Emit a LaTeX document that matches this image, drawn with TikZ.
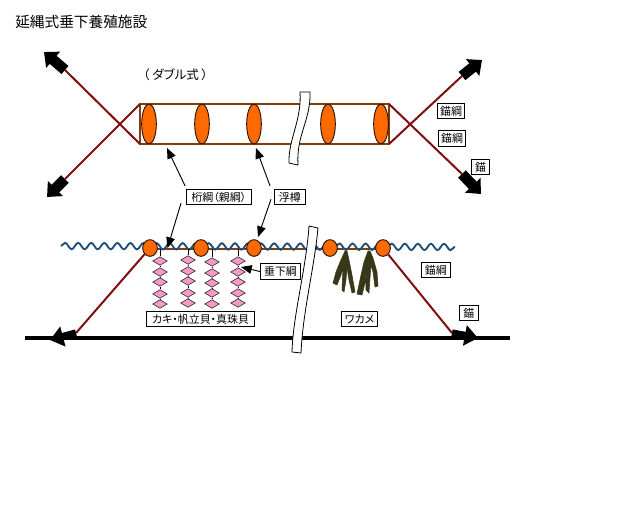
\documentclass[tikz,border=0pt]{standalone}
\usepackage{fontspec}
\setmainfont{Noto Sans CJK JP}[RawFeature={+palt}]
\usetikzlibrary{calc, positioning, arrows.meta, shapes.geometric, decorations.pathmorphing}
\definecolor{xrope}{HTML}{843C0C}
\definecolor{xanchor}{HTML}{7F0F0F}
\definecolor{xfloat}{HTML}{FF6A00}
\definecolor{xwave}{HTML}{1F4E79}
\definecolor{xshell}{HTML}{F09CC4}
\definecolor{xweed}{HTML}{37371A}
\tikzset{
	x=0.75pt, y=-0.75pt,
	labelbox/.style={draw, fill=white, line width=0.75pt, font=\fontsize{8.2pt}{9pt}\selectfont, inner sep=0pt, minimum height=11.6pt, anchor=west},
	rope/.style={xrope, line width=1.6pt},
	anchorline/.style={xanchor, line width=1.5pt},
	blockarrow/.style={line width=8pt, -{Triangle[width=15.5pt, length=9pt]}},
	floorarrow/.style={line width=5.5pt, -{Triangle[width=15pt, length=10pt]}},
	pointer/.style={line width=0.7pt, -{Triangle[width=6.5pt, length=8pt]}},
	floatv/.style={draw=black!70!xrope, fill=xfloat, line width=0.7pt, ellipse, inner sep=0pt, minimum width=11pt, minimum height=30pt},
	floath/.style={draw=black!70!xrope, fill=xfloat, line width=0.7pt, ellipse, inner sep=0pt, minimum width=11pt, minimum height=12.5pt},
	shell/.style={draw=black!70!xshell, fill=xshell, line width=0.5pt, diamond, inner sep=0pt, minimum width=11pt, minimum height=6.5pt},
	strip/.style={draw, fill=white, line width=0.6pt},
	weed/.style={fill=xweed, draw=xweed, line width=0.4pt},
}
\begin{document}
\begin{tikzpicture}
	\useasboundingbox (0,0) rectangle (640,512);
	\node[anchor=west, inner sep=0pt, font=\fontsize{11pt}{12pt}\selectfont] (title) at (15,22) {延縄式垂下養殖施設};
	\node[anchor=west, inner sep=0pt, font=\fontsize{9.4pt}{10pt}\selectfont] (kind) at (143,75) {（\hspace{2pt}ダブル式\hspace{2pt}）};

	% upper view
	\coordinate (nw) at (140,104);
	\coordinate (sw) at (140,144);
	\coordinate (ne) at (389,104);
	\coordinate (se) at (389,144);
	\draw[rope] (nw) rectangle (se);
	\foreach \x/\n in {149/a,202/b,254/c,328/d,381/e} {
			\node[floatv] (top\n) at (\x,124) {};
		}
	\coordinate (ul) at (65,70);
	\coordinate (ll) at (65,179);
	\coordinate (ur) at (462,76);
	\coordinate (lr) at (462,174);
	\draw[anchorline] (nw) -- (ll);
	\draw[anchorline] (sw) -- (ul);
	\draw[anchorline] (ne) -- (lr);
	\draw[anchorline] (se) -- (ur);
	\coordinate (ultip) at (44,52);
	\coordinate (lltip) at (47,197);
	\coordinate (urtip) at (482,60);
	\coordinate (lrtip) at (481,194);
	\draw[blockarrow] (ul) -- (ultip);
	\draw[blockarrow] (ll) -- (lltip);
	\draw[blockarrow] (ur) -- (urtip);
	\draw[blockarrow] (lr) -- (lrtip);
	\draw[strip] (300,92) -- (310,92) .. controls (311,120) and (296,135) .. (298,165) -- (289,163) .. controls (288,140) and (302,120) .. (300,92) -- cycle;

	% side view
	\coordinate (wavel) at (61,246);
	\coordinate (waver) at (455,247);
	\coordinate (floorl) at (25,338);
	\coordinate (floorr) at (510,338);
	\draw[black, line width=2.8pt] (floorl) -- (floorr);
	\draw[rope] (150,249) -- (383,249);
	\draw[xwave, line width=1.4pt, decorate, decoration={snake, segment length=9.8pt, amplitude=2.4pt}] (wavel) -- (waver);
	\foreach \x/\ya/\yb/\yc/\yd/\ye/\n in {160/261/272/282/294/304/a,188/260/271/281/293/303/b,212/262/273/283/293/304/c,238/261/272/282/293/303/d} {
			\coordinate (drop\n) at (\x,249);
			\node[shell] (sa\n) at (\x,\ya) {};
			\node[shell] (sb\n) at (\x,\yb) {};
			\node[shell] (sc\n) at (\x,\yc) {};
			\node[shell] (sd\n) at (\x,\yd) {};
			\node[shell] (se\n) at (\x,\ye) {};
			\draw[line width=0.6pt] (drop\n) -- (sa\n) (sa\n) -- (sb\n) (sb\n) -- (sc\n) (sc\n) -- (sd\n) (sd\n) -- (se\n);
		}
	\foreach \x/\n in {150/a,201/b,254/c,330/d,383/e} {
			\node[floath] (side\n) at (\x,248) {};
		}
	\coordinate (al) at (76,333);
	\coordinate (ar) at (452,333);
	\coordinate (altip) at (50,340);
	\coordinate (artip) at (478,338);
	\draw[anchorline] (sidea) -- (al);
	\draw[anchorline] (sidee) -- (ar);
	\draw[floorarrow] (al) -- (altip);
	\draw[floorarrow] (ar) -- (artip);

	% wakame
	\fill[weed] (345,251) -- (340,262) -- (336,272) -- (333,283) -- (337,285) -- (341,275) -- (343,268) -- (342,290) -- (344,292) -- (346,280) -- (347,268) -- (349,280) -- (352,293) -- (355,292) -- (352,275) -- (349,260) -- (347,251) -- cycle;
	\fill[weed] (368,251) -- (364,262) -- (361,275) -- (357,294) -- (362,295) -- (365,283) -- (366,272) -- (366,290) -- (369,293) -- (370,278) -- (371,265) -- (373,272) -- (375,287) -- (378,286) -- (377,272) -- (373,258) -- (370,251) -- cycle;

	\draw[strip] (309,226) -- (318,228) .. controls (314,270) and (303,310) .. (301,353) -- (292,352) .. controls (293,315) and (306,270) .. (309,226) -- cycle;

	% labels
	\node[labelbox, minimum width=48.5pt] (main) at (186,197) {桁綱（親綱）};
	\node[labelbox, minimum width=23pt] (buoy) at (274,197) {浮樽};
	\node[labelbox, minimum width=30pt] (hang) at (260,271.5) {垂下綱};
	\node[labelbox, minimum width=81pt] (shells) at (146,319) {カキ・帆立貝・真珠貝};
	\node[labelbox, minimum width=27pt] (wakame) at (341,319) {ワカメ};
	\node[labelbox, minimum width=20.5pt] (ropea) at (437,111) {錨綱};
	\node[labelbox, minimum width=20.5pt] (ropeb) at (438,138.5) {錨綱};
	\node[labelbox, minimum width=13.5pt] (anchora) at (471,167) {錨};
	\node[labelbox, minimum width=21.5pt] (ropec) at (421,270) {錨綱};
	\node[labelbox, minimum width=14pt] (anchorb) at (459,313) {錨};

	% pointers
	\coordinate (maintop) at (167,148);
	\coordinate (mainlow) at (167.5,248);
	\coordinate (buoytop) at (256,148);
	\coordinate (buoylow) at (258,237);
	\coordinate (hangtip) at (241,267);
	\draw[pointer] (main.north west) ++(-1,-3) -- (maintop);
	\draw[pointer] (main.south west) ++(-5,-2) -- (mainlow);
	\draw[pointer] (buoy.north west) ++(-4,-3) -- (buoytop);
	\draw[pointer] (buoy.south west) ++(-3,-6) -- (buoylow);
	\draw[pointer] (hang.west) -- (hangtip);
\end{tikzpicture}
\end{document}
